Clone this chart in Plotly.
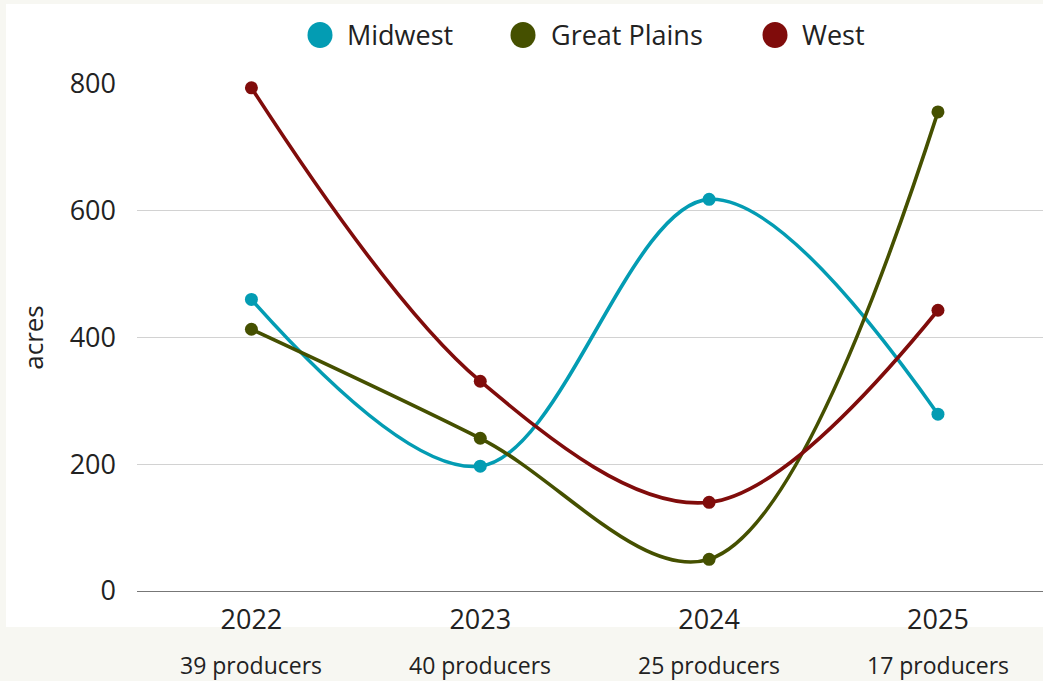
import plotly.graph_objects as go

years = ["2022", "2023", "2024", "2025"]
producers = ["39 producers", "40 producers", "25 producers", "17 producers"]
series_names = ["Midwest", "Great Plains", "West"]
midwest = [460, 197, 618, 279]
great_plains = [413, 241, 50, 756]
west = [794, 331, 140, 443]
colors = ["#039cb3", "#455000", "#800c0b"]
y_ticks = [0, 200, 400, 600, 800]

FONT = "Open Sans"
TXT = "#222222"
BG = "#f7f7f2"

xpos = list(range(len(years)))
fig = go.Figure()
for name, vals, col in zip(series_names, [midwest, great_plains, west], colors):
    fig.add_trace(go.Scatter(
        x=xpos, y=vals, name=name, mode="lines+markers",
        line=dict(color=col, width=3.6, shape="spline", smoothing=1),
        marker=dict(color=col, size=13),
        cliponaxis=False, showlegend=False,
    ))

# background panels
shapes = [
    dict(type="rect", xref="paper", yref="paper", x0=(6 - 137) / 906, x1=1.0,
         y0=(591 - 627) / 507, y1=(591 - 4) / 507, fillcolor="white",
         line=dict(width=0), layer="below"),
]
annotations = []
# custom legend
legend_px = [(320, 345), (523, 549), (775, 800)]
for (cx, tx), name, col in zip(legend_px, series_names, colors):
    ya = (591 - 35) / 507
    shapes.append(dict(type="circle", xref="paper", yref="paper",
                       xsizemode="pixel", ysizemode="pixel",
                       xanchor=(cx - 137) / 906, yanchor=ya,
                       x0=-12.5, x1=12.5, y0=-13, y1=13,
                       fillcolor=col, line=dict(width=0)))
    annotations.append(dict(xref="paper", yref="paper", x=(tx - 137) / 906, y=ya,
                            text=name, showarrow=False, xanchor="left", yanchor="middle",
                            font=dict(family=FONT, size=27, color=TXT)))
# producer counts
for i, p in enumerate(producers):
    annotations.append(dict(xref="x", yref="paper", x=i, y=(591 - 665) / 507,
                            text=p, showarrow=False, xanchor="center", yanchor="middle",
                            font=dict(family=FONT, size=23, color=TXT)))

fig.update_layout(
    width=1043, height=681,
    margin=dict(l=137, r=0, t=84, b=90),
    paper_bgcolor=BG, plot_bgcolor="white",
    font=dict(family=FONT, color=TXT),
    shapes=shapes, annotations=annotations,
    showlegend=False,
)
fig.update_xaxes(
    range=[-0.5, 3.459], tickvals=xpos, ticktext=years,
    tickfont=dict(size=27, family=FONT, color=TXT),
    showgrid=False, zeroline=False, showline=True, linecolor="#777777", linewidth=1.2,
    ticks="", ticklabelstandoff=4,
)
fig.update_yaxes(
    range=[0, 800], tickvals=y_ticks,
    tickfont=dict(size=27, family=FONT, color=TXT),
    showgrid=True, gridcolor="#d2d2d2", gridwidth=1, zeroline=False,
    showline=False, ticks="", ticklabelstandoff=20,
    title=dict(text="acres", font=dict(size=26, family=FONT, color=TXT), standoff=18),
)
fig.write_html(
    "out.html",
    config={"displayModeBar": False},
    post_script="document.body.style.margin='0';document.body.style.background='" + BG + "';",
)
